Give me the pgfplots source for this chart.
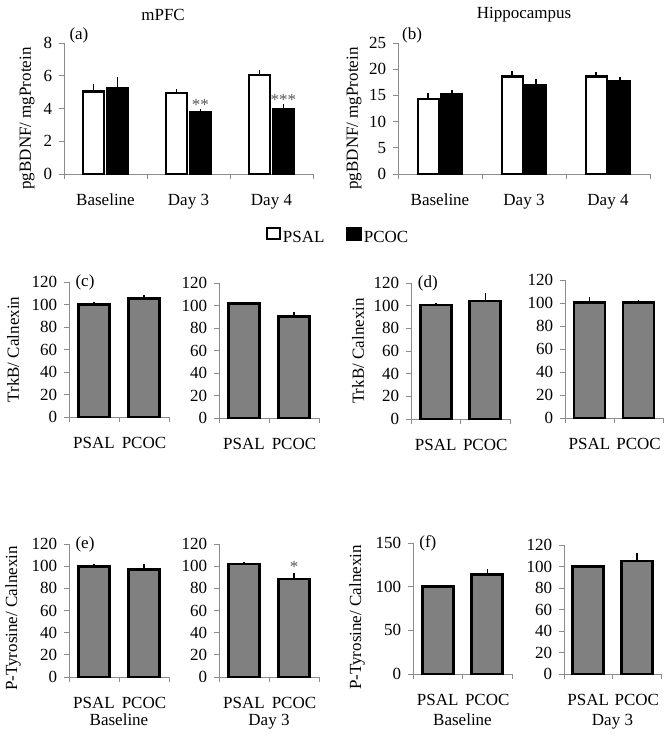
\documentclass[border=0pt]{standalone}
\usepackage{fontspec}
\setmainfont{Liberation Serif}
\usepackage{pgfplots}
\pgfplotsset{compat=1.18}
\definecolor{bargray}{HTML}{808080}
\definecolor{axgray}{HTML}{8C8C8C}
\newcommand{\fs}{\fontsize{17}{20}\selectfont}
\pgfplotsset{
  myaxis/.style={
    scale only axis, clip=false, ymin=0,
    axis x line=bottom, axis y line=left,
    axis line style={-, draw=axgray, line width=0.9pt},
    tick align=outside, major tick length=5pt,
    tick style={draw=axgray, line width=0.9pt},
    /pgf/number format/assume math mode=true,
    tick label style={font=\fs, text=black},
    yticklabel style={xshift=-1pt},
    xticklabels={},
    xticklabel style={yshift=-14pt},
    extra x tick style={tick style={draw=none}, major tick length=0pt},
  },
  ylab/.style 2 args={every axis y label/.style={at={([xshift=#1,yshift=#2]axis description cs:0,0.5)}, rotate=90, anchor=center, font=\fs}},
  xlab/.style={every axis x label/.style={at={([yshift=#1]axis description cs:0.5,0)}, anchor=base, font=\fs}},
  threecat/.style={myaxis, xmin=-0.5, xmax=2.5, xtick={-0.5,0.5,1.5,2.5}, extra x ticks={0,1,2}, extra x tick labels={Baseline,Day 3,Day 4}},
  twocat/.style={myaxis, xmin=-0.5, xmax=1.5, xtick={-0.5,0.5,1.5}, extra x ticks={0,1}, extra x tick labels={PSAL,PCOC}, ymax=120, ytick={0,20,...,120}},
  psal/.style={forget plot, ybar, bar width=21pt, bar shift=0pt, fill=white, draw=black, line width=2.4pt, error bars/.cd, y dir=plus, y explicit, error mark=none, error bar style={line width=1.5pt, draw=black}},
  pcoc/.style={forget plot, ybar, bar width=21pt, bar shift=0pt, fill=black, draw=black, line width=2.4pt, error bars/.cd, y dir=plus, y explicit, error mark=none, error bar style={line width=1.5pt, draw=black}},
  gbar/.style={forget plot, ybar, bar width=31pt, bar shift=0pt, fill=bargray, draw=black, line width=2.7pt, error bars/.cd, y dir=plus, y explicit, error mark=none, error bar style={line width=1.5pt, draw=black}},
}
\begin{document}
\fs
\begin{tikzpicture}
\useasboundingbox (0pt,0pt) rectangle (671pt,737pt);

% (a) mPFC
\begin{axis}[threecat, at={(64pt,563pt)}, anchor=south west, width=249pt, height=131pt,
  ymax=8, ytick={0,2,4,6,8}, ylab={-37pt}{-10pt}, ylabel={pgBDNF/ mgProtein},
  title={mPFC}, title style={at={(axis description cs:0.398,1)}, anchor=center, yshift=22pt, font=\fs},
  legend style={at={(axis description cs:1.10,-0.481)}, anchor=center, draw=none, fill=none, legend columns=2, font=\fs, /tikz/every even column/.append style={column sep=20pt}}]
\addplot[psal] table[x=x,y=y,y error=e] {
x y e
-0.1416 5.05 0.45
0.8584 4.95 0.23
1.8584 6.05 0.32
};
\addplot[pcoc] table[x=x,y=y,y error=e] {
x y e
0.1416 5.25 0.65
1.1416 3.75 0.22
2.1416 3.95 0.30
};
\addlegendimage{legend image code/.code={\draw[fill=white,draw=black,line width=2.4pt] (0pt,-1pt) rectangle (13pt,10pt);}}
\addlegendentry{PSAL}
\addlegendimage{legend image code/.code={\fill[black] (-1pt,-2pt) rectangle (14pt,11pt);}}
\addlegendentry{PCOC}
\node[anchor=base, text=gray!70!black] at (axis cs:1.1416,3.9) {**};
\node[anchor=base, text=gray!70!black] at (axis cs:2.1416,4.2) {***};
\node[anchor=center] at (axis description cs:0.06,1.061) {(a)};
\end{axis}

% (b) Hippocampus
\begin{axis}[threecat, at={(398pt,563pt)}, anchor=south west, width=252pt, height=131pt,
  ymax=25, ytick={0,5,10,15,20,25}, ylab={-44pt}{-10pt}, ylabel={pgBDNF/ mgProtein},
  title={Hippocampus}, title style={at={(axis description cs:0.5,1)}, anchor=center, yshift=22pt, font=\fs}]
\addplot[psal] table[x=x,y=y,y error=e] {
x y e
-0.14 14.3 1.1
0.86 18.6 1.1
1.86 18.6 0.9
};
\addplot[pcoc] table[x=x,y=y,y error=e] {
x y e
0.14 15.25 0.8
1.14 16.9 1.2
2.14 17.7 0.9
};
\node[anchor=center] at (axis description cs:0.056,1.061) {(b)};
\end{axis}

% (c) left
\begin{axis}[twocat, at={(69pt,320pt)}, anchor=south west, width=100pt, height=135pt,
  ylab={-56pt}{0pt}, ylabel={TrkB/ Calnexin}]
\addplot[gbar] table[x=x,y=y,y error=e] {
x y e
0 100 2
1 105.5 2.5
};
\node[anchor=center] at (axis description cs:0.16,1.0) {(c)};
\end{axis}
% (c) right
\begin{axis}[twocat, at={(219pt,319pt)}, anchor=south west, width=100pt, height=135pt]
\addplot[gbar] table[x=x,y=y,y error=e] {
x y e
0 101.5 2
1 90 4.5
};
\end{axis}

% (d) left
\begin{axis}[twocat, at={(411pt,318pt)}, anchor=south west, width=99pt, height=136pt,
  ylab={-53pt}{0pt}, ylabel={TrkB/ Calnexin}]
\addplot[gbar] table[x=x,y=y,y error=e] {
x y e
0 100.5 2
1 104 7
};
\node[anchor=center] at (axis description cs:0.17,1.0) {(d)};
\end{axis}
% (d) right
\begin{axis}[twocat, at={(565pt,319pt)}, anchor=south west, width=98pt, height=138pt]
\addplot[gbar] table[x=x,y=y,y error=e] {
x y e
0 100.5 5
1 100.5 2
};
\end{axis}

% (e) left
\begin{axis}[twocat, at={(69pt,60pt)}, anchor=south west, width=100pt, height=133pt,
  ylab={-56pt}{-8pt}, ylabel={P-Tyrosine/ Calnexin}, xlab=-48pt, xlabel={Baseline}]
\addplot[gbar] table[x=x,y=y,y error=e] {
x y e
0 100 1.8
1 97 5
};
\node[anchor=center] at (axis description cs:0.16,1.0) {(e)};
\end{axis}
% (e) right
\begin{axis}[twocat, at={(219pt,60pt)}, anchor=south west, width=100pt, height=133pt,
  xlab=-48pt, xlabel={Day 3}]
\addplot[gbar] table[x=x,y=y,y error=e] {
x y e
0 102 2
1 88.5 5
};
\node[anchor=base, text=gray!70!black] at (axis cs:1,94) {*};
\end{axis}

% (f) left
\begin{axis}[twocat, at={(413pt,63pt)}, anchor=south west, width=99pt, height=131pt,
  ymax=150, ytick={0,50,100,150},
  ylab={-56pt}{-9pt}, ylabel={P-Tyrosine/ Calnexin}, xlab=-51pt, xlabel={Baseline}]
\addplot[gbar] table[x=x,y=y,y error=e] {
x y e
0 100 1.5
1 114 6.5
};
\node[anchor=center] at (axis description cs:0.15,1.0) {(f)};
\end{axis}
% (f) right
\begin{axis}[twocat, at={(564pt,63pt)}, anchor=south west, width=97pt, height=129pt,
  xlab=-51pt, xlabel={Day 3}]
\addplot[gbar] table[x=x,y=y,y error=e] {
x y e
0 100 0
1 105 8
};
\end{axis}
\end{tikzpicture}
\end{document}
